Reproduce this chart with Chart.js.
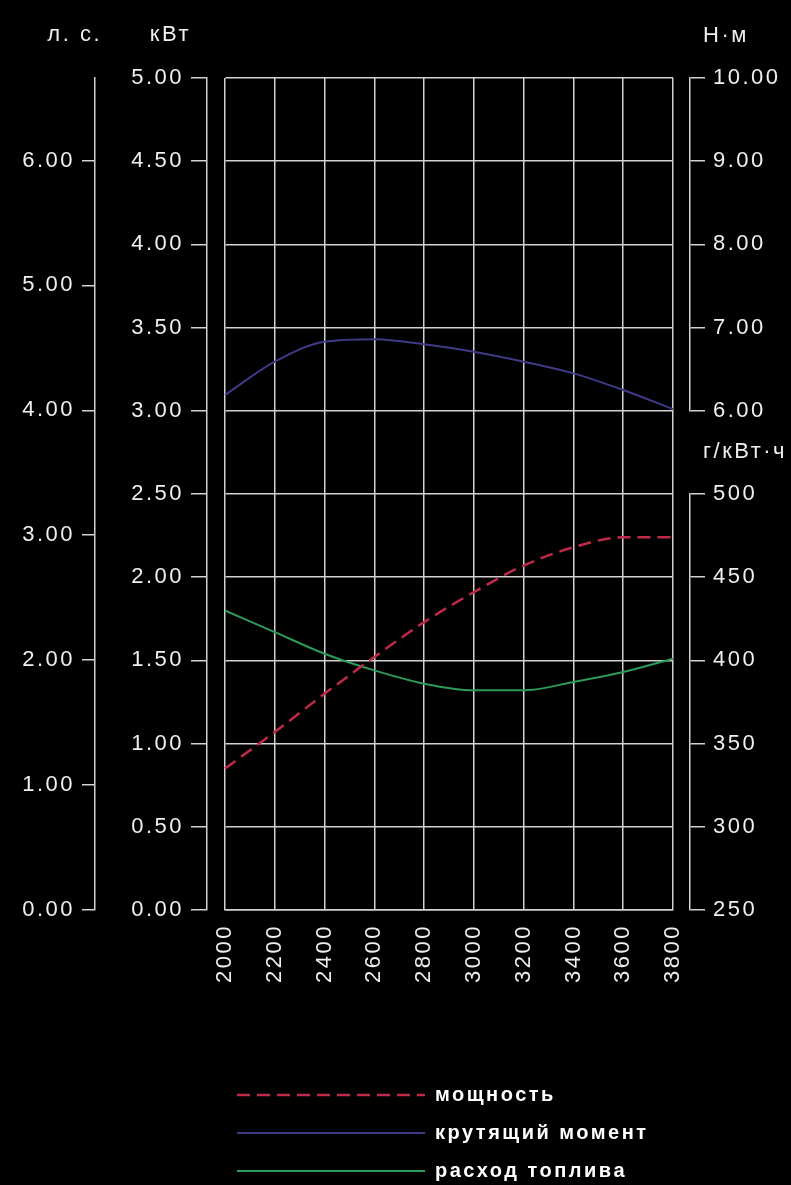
<!DOCTYPE html>
<html>
<head>
<meta charset="utf-8">
<script src="https://cdn.jsdelivr.net/npm/chart.js@4"></script>
<style>
html,body{margin:0;padding:0;background:#000;}
#wrap{width:791px;height:1185px;position:relative;}
</style>
</head>
<body>
<div id="wrap"><canvas id="c" width="791" height="1185"></canvas></div>
<script>
// ---- data ----
const rpmLabels = ['2000','2200','2400','2600','2800','3000','3200','3400','3600','3800'];
const powerKW   = [0.85, 1.07, 1.30, 1.52, 1.73, 1.91, 2.07, 2.18, 2.24, 2.24];
const torqueNm  = [6.19, 6.59, 6.83, 6.86, 6.80, 6.71, 6.59, 6.45, 6.25, 6.02];
const fuelGkWh  = [430, 417, 404, 394, 386, 382, 382, 387, 393, 401];
const seriesNames = ['мощность', 'крутящий момент', 'расход топлива'];
const titleHp = 'л. с.';
const titleKw = 'кВт';
const titleNm = 'Н·м';
const titleFuel = 'г/кВт·ч';

const AX = '#d2d2d2';
const TXT = '#efefef';
const FONT = '"Liberation Sans", Arial, sans-serif';
const tickFont = {family: FONT, size: 22};
const SPACING = '2.5px';

const spacing = {
  id: 'spacing',
  beforeDraw(chart) { chart.ctx.letterSpacing = SPACING; },
  afterLayout(chart) {
    const lg = chart.legend;
    if (lg) { lg.left = 237 - 18; lg.top = 1067; }
  },
  afterDraw(chart) {
    const {ctx, scales} = chart;
    ctx.save();
    ctx.letterSpacing = SPACING;
    ctx.fillStyle = TXT;
    ctx.font = '22px ' + FONT;
    ctx.textBaseline = 'middle';
    ctx.textAlign = 'right';
    ctx.fillText(titleHp, scales.yHp.right + 7, 35);
    ctx.fillText(titleKw, scales.yKw.right - 16, 35);
    ctx.textAlign = 'left';
    ctx.fillText(titleNm, scales.yNm.left + 13, 36);
    ctx.fillText(titleFuel, scales.yNm.left + 13, (scales.yNm.bottom + scales.yFuel.top) / 2);
    ctx.restore();
  }
};

function fixW(w) { return s => { s.width = w; }; }
const blank = {
  type: 'linear', display: true,
  ticks: {display: false}, grid: {display: false}, border: {display: false}
};

new Chart(document.getElementById('c'), {
  type: 'line',
  data: {
    labels: rpmLabels,
    datasets: [
      {label: seriesNames[0], data: powerKW, yAxisID: 'yKw', borderColor: '#bf2a48',
       borderWidth: 2.5, borderDash: [13, 7], pointRadius: 0, cubicInterpolationMode: 'monotone', fill: false},
      {label: seriesNames[1], data: torqueNm, yAxisID: 'yNm', borderColor: '#3e3a86',
       borderWidth: 2, pointRadius: 0, cubicInterpolationMode: 'monotone', fill: false},
      {label: seriesNames[2], data: fuelGkWh, yAxisID: 'yFuel', borderColor: '#2c9a5a',
       borderWidth: 2, pointRadius: 0, cubicInterpolationMode: 'monotone', fill: false}
    ]
  },
  options: {
    responsive: false,
    animation: false,
    devicePixelRatio: 1,
    layout: {padding: {top: 78, left: 0, right: 0, bottom: 0}},
    plugins: {
      legend: {
        position: 'bottom', fullSize: false, align: 'start',
        labels: {
          usePointStyle: true, pointStyle: 'line', pointStyleWidth: 188,
          color: '#ffffff', padding: 18,
          font: {family: FONT, size: 20, weight: 'bold'},
          generateLabels: chart => {
            const items = Chart.defaults.plugins.legend.labels.generateLabels(chart);
            items.forEach((it, i) => {
              const ds = chart.data.datasets[it.datasetIndex != null ? it.datasetIndex : i];
              it.lineDash = ds.borderDash || [];
              it.strokeStyle = ds.borderColor;
              it.lineWidth = ds.borderWidth;
            });
            return items;
          }
        }
      },
      tooltip: {enabled: false}
    },
    scales: {
      x: {
        type: 'category', offset: false,
        grid: {color: AX, lineWidth: 1.5, drawTicks: false},
        border: {color: AX, width: 1.5},
        ticks: {color: TXT, font: tickFont, autoSkip: false, minRotation: 90, maxRotation: 90, padding: 14},
        afterFit: s => { s.height = 151; }
      },
      yHp: {
        type: 'linear', position: 'left', weight: 3, min: 0, max: 6.66,
        grid: {drawOnChartArea: false, color: AX, lineWidth: 1.5, tickLength: 13},
        border: {color: AX, width: 1.5},
        ticks: {stepSize: 1, color: TXT, font: tickFont, padding: 7, callback: v => Number(v).toFixed(2)},
        afterBuildTicks: s => { s.ticks = s.ticks.filter(t => t.value <= 6.001); },
        afterFit: fixW(95)
      },
      yKw: {
        type: 'linear', position: 'left', weight: 2, min: 0, max: 5,
        grid: {color: AX, lineWidth: 1.5, tickLength: 16},
        border: {color: AX, width: 1.5},
        ticks: {stepSize: 0.5, color: TXT, font: tickFont, padding: 7, callback: v => Number(v).toFixed(2)},
        afterFit: fixW(112)
      },
      ySpL: Object.assign({}, blank, {position: 'left', weight: 1, afterFit: fixW(18)}),
      ySpR: Object.assign({}, blank, {position: 'right', weight: 1, afterFit: fixW(17)}),
      yNm: {
        type: 'linear', position: 'right', weight: 2, stack: 'r', stackWeight: 4, min: 6, max: 10,
        grid: {drawOnChartArea: false, color: AX, lineWidth: 1.5, tickLength: 15},
        border: {color: AX, width: 1.5},
        ticks: {stepSize: 1, color: TXT, font: tickFont, padding: 8, callback: v => Number(v).toFixed(2)},
        afterFit: fixW(101)
      },
      yGap: Object.assign({}, blank, {position: 'right', weight: 2, stack: 'r', stackWeight: 1, afterFit: fixW(101)}),
      yFuel: {
        type: 'linear', position: 'right', weight: 2, stack: 'r', stackWeight: 5, min: 250, max: 500,
        grid: {drawOnChartArea: false, color: AX, lineWidth: 1.5, tickLength: 15},
        border: {color: AX, width: 1.5},
        ticks: {stepSize: 50, color: TXT, font: tickFont, padding: 8, callback: v => String(Math.round(v))},
        afterFit: fixW(101)
      }
    }
  },
  plugins: [spacing]
});
</script>
</body>
</html>
